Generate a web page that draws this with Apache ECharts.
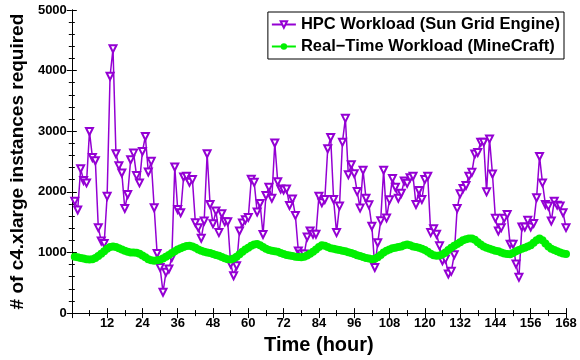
<!DOCTYPE html>
<html>
<head>
<meta charset="utf-8">
<script src="https://cdn.jsdelivr.net/npm/echarts@6/dist/echarts.min.js"></script>
<style>
  html, body { margin: 0; padding: 0; background: #fff; }
  #chart { width: 580px; height: 360px; }
</style>
</head>
<body>
<div id="chart"></div>
<script>
// hour index 1..168
const hours = Array.from({ length: 168 }, (_, i) => i + 1);

// HPC workload (Sun Grid Engine), instances per hour
const hpcWorkload = [
  1847, 1700, 2383, 2186, 2148, 2995, 2568, 2514, 1410, 1191,
  1148, 1929, 3907, 4361, 2628, 2432, 2311, 1727, 1956, 2530,
  2639, 2268, 2148, 2667, 2913, 2328, 2503, 1738, 984, 754,
  344, 672, 727, 918, 2410, 1710, 1656, 2246, 2257, 2158,
  2202, 1492, 1410, 1235, 1519, 2628, 1792, 1475, 1683, 1328,
  1639, 1508, 1508, 809, 617, 781, 1355, 1487, 1541, 1579,
  2206, 2157, 1667, 1808, 1296, 1939, 2075, 1895, 2805, 2168,
  2046, 2030, 2046, 1776, 1884, 1612, 1024, 973, 973, 1257,
  1355, 1300, 1300, 1929, 1820, 1874, 2710, 2896, 1874, 1328,
  1765, 2820, 3213, 2284, 2448, 2300, 2004, 1732, 2358, 1895,
  1786, 1433, 752, 1160, 1525, 2358, 1569, 1868, 2222, 2075,
  1895, 1977, 2178, 2140, 2233, 2257, 1792, 2022, 1874, 2202,
  2257, 1328, 1393, 1300, 1109, 863, 891, 645, 689, 962,
  1727, 1967, 2055, 2104, 2257, 2322, 2623, 2650, 2820, 2820,
  2000, 2874, 2295, 1563, 1355, 1410, 1563, 1628, 1137, 1137,
  809, 590, 1421, 1421, 1530, 1421, 1480, 1902, 2585, 2148,
  1792, 1765, 1519, 1847, 1781, 1765, 1656, 1410
];

// real-time workload (MineCraft)
const realTimeWorkload = [
  930, 920, 910, 900, 890, 885, 890, 910, 940, 980,
  1020, 1060, 1090, 1100, 1090, 1070, 1050, 1030, 1010, 1000,
  1000, 995, 980, 950, 920, 890, 870, 865, 870, 880,
  900, 930, 960, 990, 1020, 1050, 1070, 1090, 1105, 1110,
  1100, 1080, 1050, 1030, 1010, 1000, 990, 975, 960, 945,
  925, 905, 890, 885, 900, 930, 970, 1010, 1050, 1080,
  1110, 1130, 1140, 1120, 1090, 1060, 1040, 1030, 1020, 1010,
  990, 975, 960, 950, 940, 930, 925, 920, 930, 950,
  980, 1010, 1050, 1090, 1120, 1110, 1090, 1070, 1060, 1050,
  1040, 1030, 1020, 1005, 990, 975, 955, 940, 925, 910,
  900, 890, 895, 920, 960, 1000, 1030, 1050, 1070, 1080,
  1090, 1100, 1120, 1130, 1120, 1100, 1090, 1080, 1060, 1040,
  1010, 980, 955, 945, 950, 970, 1000, 1040, 1080, 1110,
  1140, 1170, 1200, 1220, 1230, 1230, 1210, 1170, 1130, 1100,
  1080, 1060, 1045, 1030, 1020, 1000, 985, 975, 970, 990,
  1020, 1040, 1060, 1080, 1100, 1120, 1160, 1200, 1230, 1200,
  1150, 1100, 1060, 1040, 1020, 1000, 985, 975
];

const seriesNames = ["HPC Workload (Sun Grid Engine)", "Real\u2212Time Workload (MineCraft)"];

const font = "Liberation Sans";
const tickLabel = { color: "#000", fontFamily: font, fontWeight: "bold", fontSize: 13 };

const boxAxisX = {
  type: "value",
  min: 0,
  max: 168,
  interval: 12,
  splitLine: { show: false },
  axisLine: { show: true, lineStyle: { color: "#000", width: 1 } },
  axisTick: { show: true, inside: true, length: 5, lineStyle: { color: "#000" } },
  minorTick: { show: true, splitNumber: 2, length: 3, lineStyle: { color: "#000" } },
};

const boxAxisY = {
  type: "value",
  min: 0,
  max: 5000,
  interval: 1000,
  splitLine: { show: false },
  axisLine: { show: true, lineStyle: { color: "#000", width: 1 } },
  axisTick: { show: true, inside: true, length: 5, lineStyle: { color: "#000" } },
  minorTick: { show: true, splitNumber: 5, length: 3, lineStyle: { color: "#000" } },
};

const chart = echarts.init(document.getElementById("chart"), null, { renderer: "canvas" });

chart.setOption({
  animation: false,
  backgroundColor: "#fff",
  grid: { left: 62, right: 14, top: 10, bottom: 44 },
  legend: {
    orient: "vertical",
    right: 16,
    top: 12,
    backgroundColor: "#fff",
    borderColor: "#000",
    borderWidth: 1,
    padding: [4, 4, 4, 3],
    itemGap: 5,
    itemWidth: 24,
    itemHeight: 8,
    textStyle: { color: "#000", fontFamily: font, fontWeight: "bold", fontSize: 16.5 },
    data: seriesNames,
  },
  xAxis: [
    {
      ...boxAxisX,
      position: "bottom",
      name: "Time (hour)",
      nameLocation: "middle",
      nameGap: 17,
      nameTextStyle: { color: "#000", fontFamily: font, fontWeight: "bold", fontSize: 20 },
      axisLabel: {
        ...tickLabel,
        margin: 4,
        formatter: (v) => (v === 0 ? "" : String(v)),
      },
    },
    { ...boxAxisX, position: "top", axisLabel: { show: false } },
  ],
  yAxis: [
    {
      ...boxAxisY,
      position: "left",
      name: "# of c4.xlarge instances required",
      nameLocation: "middle",
      nameGap: 35,
      nameTextStyle: { color: "#000", fontFamily: font, fontWeight: "bold", fontSize: 19 },
      axisLabel: { ...tickLabel, margin: 5, formatter: (v) => String(v) },
    },
    { ...boxAxisY, position: "right", axisLabel: { show: false } },
  ],
  series: [
    {
      name: seriesNames[0],
      type: "line",
      xAxisIndex: 0,
      yAxisIndex: 0,
      data: hours.map((h, i) => [h, hpcWorkload[i]]),
      symbol: "emptyTriangle",
      symbolRotate: 180,
      symbolSize: 7,
      lineStyle: { color: "#9400d3", width: 1.5 },
      itemStyle: { color: "#9400d3", borderWidth: 1.3 },
    },
    {
      name: seriesNames[1],
      type: "line",
      xAxisIndex: 0,
      yAxisIndex: 0,
      data: hours.map((h, i) => [h, realTimeWorkload[i]]),
      symbol: "circle",
      symbolSize: 8,
      lineStyle: { color: "#00f000", width: 5 },
      itemStyle: { color: "#00f000" },
    },
  ],
});
</script>
</body>
</html>
